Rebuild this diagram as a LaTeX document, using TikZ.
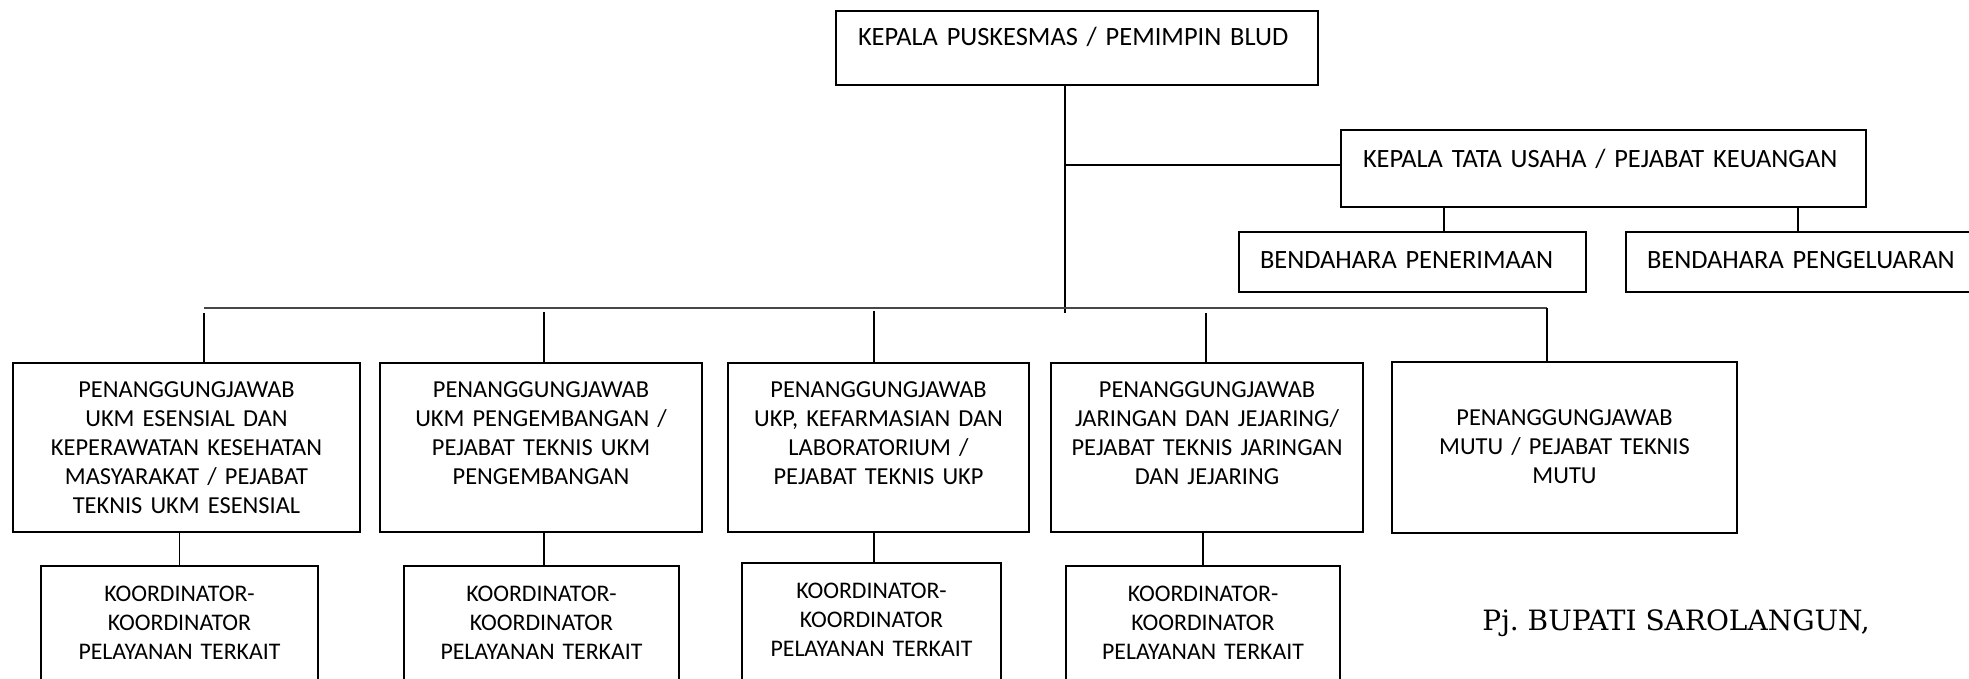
\documentclass[tikz,border=0pt]{standalone}
\usepackage{fontspec}
\setmainfont{Carlito}
\newfontfamily\pjfont{DejaVu Serif}
\frenchspacing
\begin{document}
\begin{tikzpicture}[x=0.5pt,y=-0.5pt,
  orgbox/.style={draw=black, line width=1pt, anchor=north west, inner ysep=0pt,
    font=\fontsize{12.2}{14.5}\selectfont},
  ctrbox/.style={orgbox, align=center, inner xsep=4pt},
  lftbox/.style={orgbox, align=left, font=\fontsize{13.2}{15.5}\selectfont},
  rowbox/.style={ctrbox, text height=17.35pt, text depth=67.15pt},
  koordbox/.style={ctrbox, text height=17.85pt, text depth=59.65pt,
    font=\fontsize{11.9}{14.5}\selectfont},
  link/.style={draw=black, line width=0.75pt},
  busline/.style={draw=black!72, line width=1.2pt}]
\useasboundingbox (0,0) rectangle (1969,679);
\clip (0,0) rectangle (1969,679);

% top level
\node[lftbox, inner xsep=11pt, text width=219pt, text height=17.35pt, text depth=19.65pt]
  (top) at (835,10) {KEPALA PUSKESMAS / PEMIMPIN BLUD};
\node[lftbox, inner xsep=11pt, text width=240.5pt, text height=18.85pt, text depth=19.65pt]
  (ktu) at (1340,129) {KEPALA TATA USAHA / PEJABAT KEUANGAN};
\node[lftbox, inner xsep=10.5pt, text width=152.5pt, text height=18.35pt, text depth=11.65pt]
  (bp) at (1238,231) {BENDAHARA PENERIMAAN};
\node[lftbox, inner xsep=10.5pt, text width=159pt, text height=18.35pt, text depth=11.65pt]
  (bpg) at (1625,231) {BENDAHARA PENGELUARAN};

% second row
\node[rowbox, text width=165.5pt] (b1) at (12,362)
  {PENANGGUNGJAWAB\\UKM ESENSIAL DAN\\KEPERAWATAN KESEHATAN\\MASYARAKAT / PEJABAT\\TEKNIS UKM ESENSIAL};
\node[rowbox, text width=153pt] (b2) at (379,362)
  {PENANGGUNGJAWAB\\UKM PENGEMBANGAN /\\PEJABAT TEKNIS UKM\\PENGEMBANGAN};
\node[rowbox, text width=142.5pt] (b3) at (727,362)
  {PENANGGUNGJAWAB\\UKP, KEFARMASIAN DAN\\LABORATORIUM /\\PEJABAT TEKNIS UKP};
\node[rowbox, text width=148pt] (b4) at (1050,362)
  {PENANGGUNGJAWAB\\JARINGAN DAN JEJARING/\\PEJABAT TEKNIS JARINGAN\\DAN JEJARING};
\node[ctrbox, text width=164.5pt, text height=31.85pt, text depth=53.65pt] (b5) at (1391,361)
  {PENANGGUNGJAWAB\\MUTU / PEJABAT TEKNIS\\MUTU};

% coordinators
\node[koordbox, text width=130.5pt] (k1) at (40,565) {KOORDINATOR-\\KOORDINATOR\\PELAYANAN TERKAIT};
\node[koordbox, text width=129.5pt] (k2) at (403,565) {KOORDINATOR-\\KOORDINATOR\\PELAYANAN TERKAIT};
\node[koordbox, text width=121.5pt] (k3) at (741,562) {KOORDINATOR-\\KOORDINATOR\\PELAYANAN TERKAIT};
\node[koordbox, text width=129pt] (k4) at (1065,565) {KOORDINATOR-\\KOORDINATOR\\PELAYANAN TERKAIT};

% signature
\node[anchor=base west, inner sep=0pt, font=\pjfont\fontsize{14}{16}\selectfont]
  (pj) at (1482,630) {Pj. BUPATI SAROLANGUN,};

% connectors
\coordinate (mv) at (1065,313);
\draw[link] (top.south -| mv) -- (mv);
\coordinate (kh) at (1065,165);
\draw[link] (kh) -- (kh -| ktu.west);
\path (ktu.south west) ++(104,0) coordinate (kt1);
\path (ktu.south west) ++(458,0) coordinate (kt2);
\draw[link] (kt1) -- (kt1 |- bp.north);
\draw[link] (kt2) -- (kt2 |- bpg.north);

\coordinate (busL) at (204,308);
\coordinate (busR) at (1547,308);
\draw[busline] (busL) -- (busR);

\coordinate (s1) at (204,313);
\coordinate (s2) at (544,312);
\coordinate (s3) at (874,311);
\coordinate (s4) at (1206,313);
\coordinate (s5) at (1547,308);
\draw[link] (s1) -- (s1 |- b1.north);
\draw[link] (s2) -- (s2 |- b2.north);
\draw[link] (s3) -- (s3 |- b3.north);
\draw[link] (s4) -- (s4 |- b4.north);
\draw[link] (s5) -- (s5 |- b5.north);

\draw[link] (b1.south -| k1.north) -- (k1.north);
\draw[link] (b2.south -| s2) -- (s2 |- k2.north);
\draw[link] (b3.south -| s3) -- (s3 |- k3.north);
\draw[link] (b4.south -| k4.north) -- (k4.north);
\end{tikzpicture}
\end{document}
